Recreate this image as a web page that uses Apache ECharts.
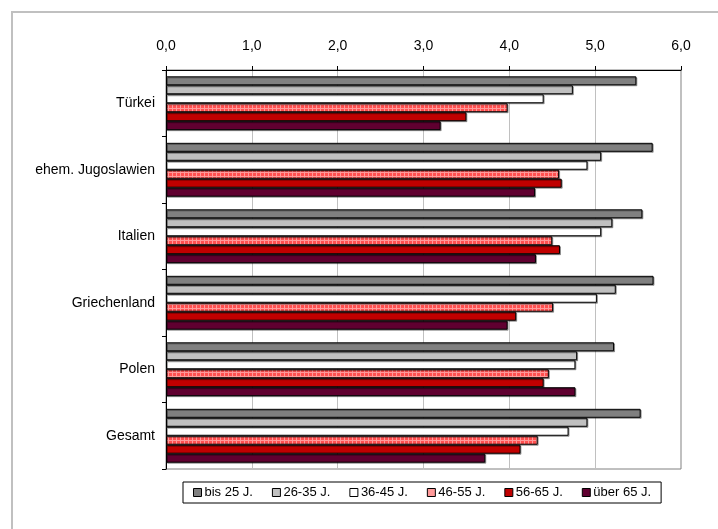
<!DOCTYPE html>
<html>
<head>
<meta charset="utf-8">
<script src="https://cdn.jsdelivr.net/npm/echarts@6/dist/echarts.min.js"></script>
<style>
html,body{margin:0;padding:0;background:#fff;}
#chart{width:718px;height:529px;}
</style>
</head>
<body>
<div id="chart"></div>
<script>
var categories = ['Türkei', 'ehem. Jugoslawien', 'Italien', 'Griechenland', 'Polen', 'Gesamt'];
var seriesNames = ['bis 25 J.', '26-35 J.', '36-45 J.', '46-55 J.', '56-65 J.', 'über 65 J.'];
var bis25 = [5.48, 5.67, 5.55, 5.68, 5.22, 5.53];
var j26_35 = [4.74, 5.07, 5.20, 5.24, 4.79, 4.91];
var j36_45 = [4.40, 4.91, 5.07, 5.02, 4.77, 4.69];
var j46_55 = [3.98, 4.58, 4.50, 4.51, 4.46, 4.33];
var j56_65 = [3.50, 4.61, 4.59, 4.08, 4.40, 4.13];
var ueber65 = [3.20, 4.30, 4.31, 3.98, 4.77, 3.72];
var xTicks = [0, 1, 2, 3, 4, 5, 6];

var seriesData = [bis25, j26_35, j36_45, j46_55, j56_65, ueber65];

// hatched pink pattern for 46-55 J.
var pc = document.createElement('canvas');
pc.width = 4; pc.height = 4;
var g = pc.getContext('2d');
g.fillStyle = '#ff5050';
g.fillRect(0, 0, 4, 4);
g.fillStyle = '#ff9a9a';
g.fillRect(0, 0, 4, 1);
g.fillRect(0, 0, 1, 4);

var colors = ['#808080', '#c0c0c0', '#ffffff', {image: pc, repeat: 'repeat'}, '#c00000', '#600030'];
var legendColors = ['#808080', '#c0c0c0', '#ffffff', '#ff9999', '#c00000', '#600030'];

var chart = echarts.init(document.getElementById('chart'), null, {renderer: 'canvas'});
var font = 'Liberation Sans, Arial, sans-serif';

var series = seriesNames.map(function (n, i) {
  return {
    name: n,
    type: 'bar',
    data: seriesData[i],
    barGap: '0%',
    barCategoryGap: '19%',
    itemStyle: {
      color: colors[i],
      borderColor: '#000',
      borderWidth: 1,
      shadowColor: 'rgba(0,0,0,0.35)',
      shadowOffsetX: 1,
      shadowOffsetY: 1
    },
    emphasis: {disabled: true},
    animation: false
  };
});

chart.setOption({
  animation: false,
  textStyle: {fontFamily: font},
  graphic: [{
    type: 'rect',
    shape: {x: 12, y: 12, width: 730, height: 540},
    style: {fill: 'none', stroke: '#c0c0c0', lineWidth: 2},
    silent: true
  }],
  grid: {
    left: 166, right: 37, top: 70, bottom: 60,
    show: true, borderColor: '#808080', borderWidth: 1, backgroundColor: 'transparent'
  },
  xAxis: {
    type: 'value',
    position: 'top',
    min: xTicks[0], max: xTicks[xTicks.length - 1], interval: 1,
    axisLine: {show: true, lineStyle: {color: '#000', width: 1}},
    axisTick: {show: true, length: 4, lineStyle: {color: '#000'}},
    axisLabel: {
      color: '#000', fontSize: 14, fontFamily: font, margin: 17,
      formatter: function (v) { return v.toFixed(1).replace('.', ','); }
    },
    splitLine: {show: true, lineStyle: {color: '#c0c0c0', width: 1}}
  },
  yAxis: {
    type: 'category',
    data: categories,
    inverse: true,
    axisLine: {show: true, lineStyle: {color: '#000', width: 1}},
    axisTick: {show: true, length: 4, lineStyle: {color: '#000'}},
    axisLabel: {color: '#000', fontSize: 14, fontFamily: font, margin: 11},
    splitLine: {show: false}
  },
  legend: {
    left: 183, top: 482,
    orient: 'horizontal',
    itemWidth: 8, itemHeight: 8, itemGap: 19,
    padding: [4, 10, 4, 10],
    borderColor: '#000', borderWidth: 1,
    icon: 'rect',
    textStyle: {color: '#000', fontSize: 13, fontFamily: font, padding: [0, 0, 0, -2]},
    itemStyle: {borderColor: '#000', borderWidth: 1, shadowBlur: 0, shadowOffsetX: 0, shadowOffsetY: 0},
    data: seriesNames.map(function (n, i) {
      return {name: n, itemStyle: {color: legendColors[i], borderColor: '#000', borderWidth: 1}};
    })
  },
  series: series
});
</script>
</body>
</html>
